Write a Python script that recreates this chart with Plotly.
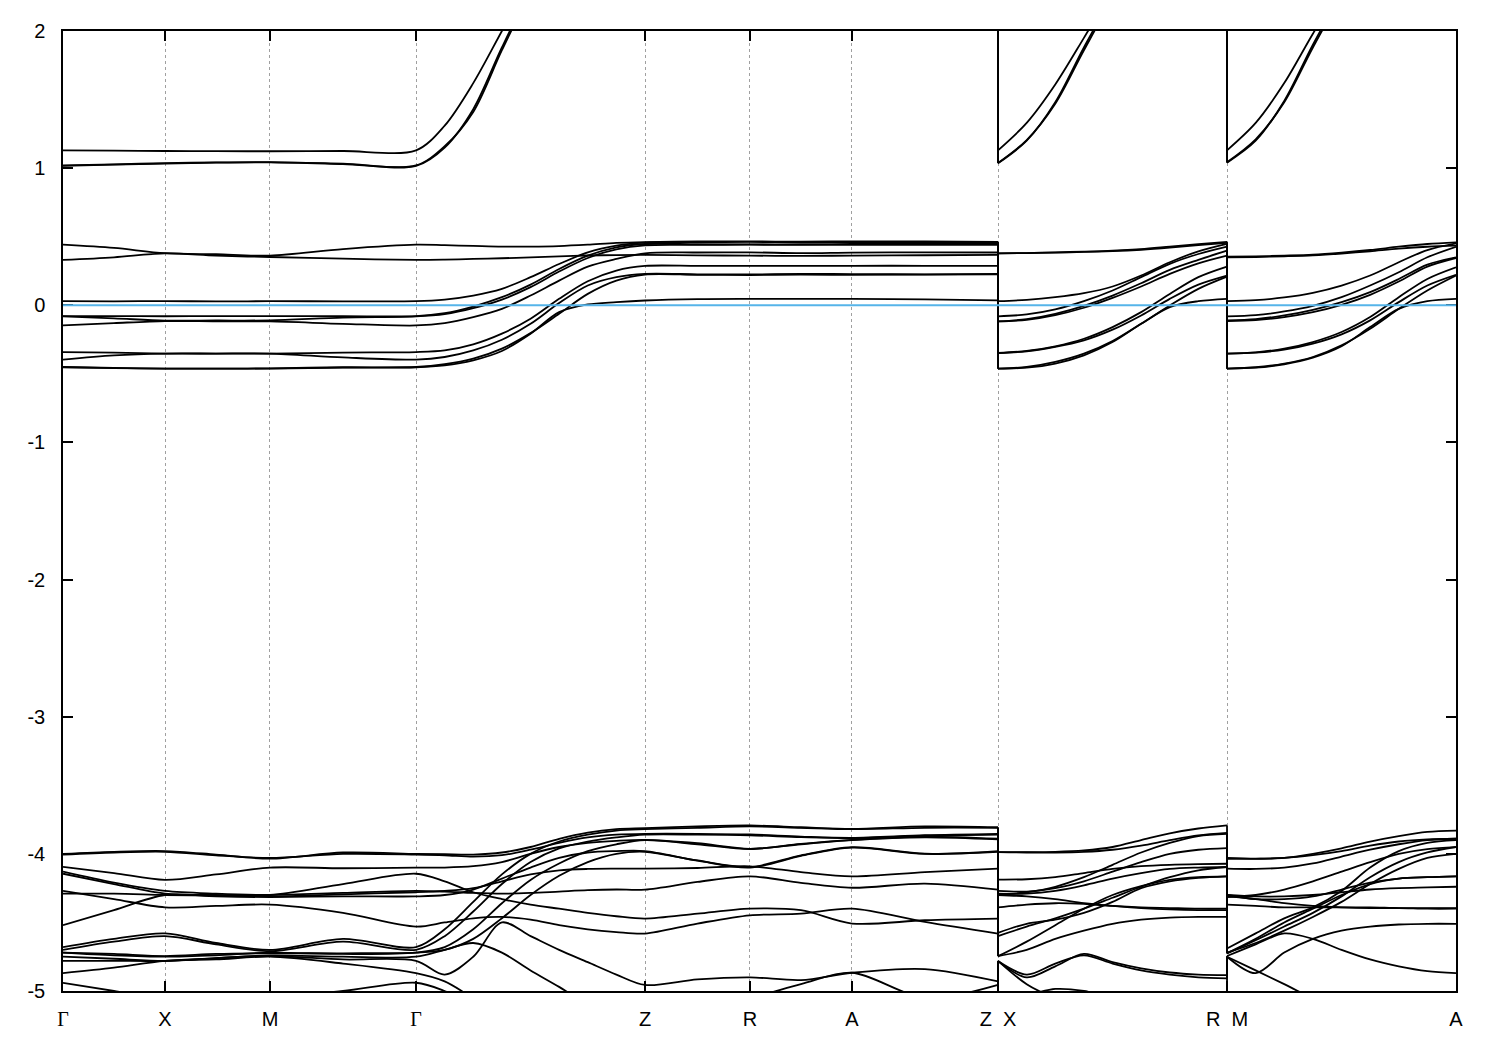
import plotly.graph_objects as go

# ---------------- k-path (Γ-X distance = 1) ----------------
K_NODES = [0.0, 1.0, 2.029, 3.461, 5.706, 6.735, 7.735, 9.167, 11.412, 13.657]
K_LABELS = ['<span style="font-family:Liberation Serif">Γ</span>', "X", "M",
            '<span style="font-family:Liberation Serif">Γ</span>', "Z", "R", "A",
            "Z\u00a0\u00a0X", "R\u00a0\u00a0M", "A"]

# k positions where energies were read
K_MAIN = [0.0, 0.5, 1.0, 1.5, 2.029, 2.745, 3.461,                      # Γ-X-M-Γ
          3.742, 4.022, 4.303, 4.584, 4.864, 5.145, 5.425, 5.706,      # Γ-Z
          6.22, 6.735, 7.235, 7.735, 8.45, 9.167]                      # Z-R-A-Z
K_XR = [9.167, 9.448, 9.728, 10.009, 10.29, 10.57, 10.851, 11.131, 11.412]
K_MA = [11.412, 11.693, 11.973, 12.254, 12.535, 12.815, 13.096, 13.376, 13.657]

E_FERMI = 0.0
Y_TICKS = [2, 1, 0, -1, -2, -3, -4, -5]
Y_TICKTEXT = ["2", "1", "0", "-1", "-2", "-3", "-4", "-5"]

# ---------------- band energies (eV) ----------------
E_MAIN = {
    # upper bands
    "u0": [1.13, 1.128, 1.125, 1.124, 1.123, 1.125, 1.13,
           1.31, 1.62, 2.0, 2.38, 2.75, 3.05, 3.25, 3.3,
           3.3, 3.3, 3.3, 3.3, 3.3, 3.3],
    "u1": [1.016, 1.025, 1.033, 1.04, 1.042, 1.03, 1.016,
           1.15, 1.43, 1.88, 2.3, 2.65, 2.9, 3.05, 3.1,
           3.1, 3.1, 3.1, 3.1, 3.1, 3.1],
    "u2": [1.02, 1.028, 1.036, 1.042, 1.044, 1.033, 1.02,
           1.16, 1.41, 1.86, 2.28, 2.63, 2.88, 3.03, 3.08,
           3.08, 3.08, 3.08, 3.08, 3.08, 3.08],
    # bands around the Fermi level
    "m0": [0.442, 0.418, 0.38, 0.372, 0.362, 0.41, 0.442,
           0.438, 0.433, 0.428, 0.428, 0.432, 0.442, 0.455, 0.461,
           0.466, 0.466, 0.464, 0.466, 0.466, 0.462],
    "m1": [0.331, 0.35, 0.378, 0.362, 0.352, 0.34, 0.331,
           0.333, 0.338, 0.343, 0.35, 0.357, 0.363, 0.366, 0.367,
           0.364, 0.362, 0.36, 0.362, 0.365, 0.367],
    "m2": [0.030, 0.029, 0.031, 0.028, 0.030, 0.029, 0.030,
           0.042, 0.071, 0.120, 0.205, 0.301, 0.386, 0.435, 0.457,
           0.46, 0.462, 0.46, 0.46, 0.46, 0.458],
    "m3": [-0.079, -0.079, -0.08, -0.079, -0.079, -0.079, -0.079,
           -0.057, -0.009, 0.059, 0.151, 0.265, 0.362, 0.423, 0.447,
           0.445, 0.444, 0.445, 0.447, 0.448, 0.45],
    "m4": [-0.081, -0.095, -0.112, -0.111, -0.110, -0.09, -0.081,
           -0.064, -0.021, 0.042, 0.132, 0.246, 0.345, 0.408, 0.437,
           0.44, 0.442, 0.44, 0.44, 0.44, 0.44],
    "m5": [-0.147, -0.13, -0.115, -0.117, -0.118, -0.135, -0.147,
           -0.130, -0.086, -0.026, 0.071, 0.180, 0.282, 0.338, 0.379,
           0.385, 0.386, 0.380, 0.384, 0.386, 0.385],
    "m6": [-0.341, -0.345, -0.352, -0.352, -0.352, -0.345, -0.341,
           -0.329, -0.285, -0.207, -0.098, 0.047, 0.175, 0.253, 0.287,
           0.287, 0.287, 0.287, 0.288, 0.288, 0.287],
    "m7": [-0.396, -0.365, -0.352, -0.352, -0.352, -0.38, -0.396,
           -0.377, -0.329, -0.251, -0.135, 0.016, 0.144, 0.205, 0.229,
           0.226, 0.225, 0.229, 0.227, 0.226, 0.229],
    "m8": [-0.450, -0.456, -0.462, -0.462, -0.460, -0.452, -0.450,
           -0.430, -0.389, -0.316, -0.203, -0.062, 0.083, 0.180, 0.224,
           0.222, 0.221, 0.224, 0.222, 0.224, 0.226],
    "m9": [-0.452, -0.458, -0.462, -0.462, -0.462, -0.455, -0.452,
           -0.438, -0.401, -0.333, -0.207, -0.050, 0.006, 0.023, 0.035,
           0.045, 0.047, 0.047, 0.047, 0.043, 0.036],
    # lower bands
    "b0": [-4.00, -3.985, -3.98, -4.005, -4.035, -3.99, -4.00,
           -4.003, -4.005, -3.99, -3.95, -3.89, -3.845, -3.82, -3.813,
           -3.80, -3.793, -3.806, -3.818, -3.80, -3.806],
    "b1": [-4.005, -3.99, -3.985, -4.01, -4.03, -4.00, -4.005,
           -4.01, -4.02, -4.01, -3.97, -3.92, -3.88, -3.86, -3.854,
           -3.854, -3.859, -3.874, -3.883, -3.864, -3.854],
    "b2": [-4.095, -4.14, -4.19, -4.15, -4.10, -4.105, -4.10,
           -4.10, -4.09, -4.06, -4.0, -3.95, -3.92, -3.905, -3.898,
           -3.922, -3.963, -3.927, -3.898, -3.874, -3.89],
    "b3": [-4.13, -4.21, -4.27, -4.29, -4.30, -4.285, -4.27,
           -4.275, -4.285, -4.29, -4.285, -4.275, -4.265, -4.26, -4.261,
           -4.205, -4.164, -4.212, -4.247, -4.217, -4.261],
    "b4": [-4.145, -4.22, -4.29, -4.30, -4.30, -4.22, -4.145,
           -4.20, -4.28, -4.33, -4.37, -4.40, -4.43, -4.455, -4.472,
           -4.436, -4.399, -4.411, -4.508, -4.484, -4.472],
    "b5": [-4.27, -4.33, -4.39, -4.38, -4.37, -4.43, -4.53,
           -4.50, -4.47, -4.46, -4.48, -4.52, -4.55, -4.57, -4.581,
           -4.508, -4.448, -4.436, -4.399, -4.496, -4.581],
    "b6": [-4.29, -4.29, -4.30, -4.305, -4.31, -4.295, -4.28,
           -4.27, -4.25, -4.20, -4.15, -4.12, -4.11, -4.108, -4.108,
           -4.103, -4.091, -4.133, -4.164, -4.133, -4.108],
    "b7": [-4.52, -4.41, -4.30, -4.31, -4.315, -4.31, -4.31,
           -4.30, -4.26, -4.18, -4.10, -4.03, -3.99, -3.98, -3.98,
           -4.048, -4.096, -4.011, -3.951, -3.999, -3.98],
    "b8": [-4.68, -4.62, -4.58, -4.65, -4.70, -4.62, -4.68,
           -4.55, -4.35, -4.15, -4.0, -3.91, -3.86, -3.83, -3.82,
           -3.81, -3.80, -3.81, -3.82, -3.81, -3.81],
    "b9": [-4.70, -4.64, -4.60, -4.66, -4.71, -4.64, -4.70,
           -4.60, -4.42, -4.22, -4.06, -3.96, -3.91, -3.88, -3.86,
           -3.86, -3.865, -3.878, -3.885, -3.868, -3.86],
    "b10": [-4.72, -4.74, -4.75, -4.74, -4.72, -4.73, -4.72,
            -4.68, -4.55, -4.36, -4.19, -4.07, -3.98, -3.93, -3.90,
            -3.93, -3.965, -3.93, -3.90, -3.88, -3.895],
    "b15": [-4.72, -4.73, -4.745, -4.73, -4.725, -4.725, -4.72,
            -4.70, -4.62, -4.47, -4.30, -4.16, -4.06, -4.0, -3.985,
            -4.05, -4.10, -4.015, -3.955, -4.0, -3.985],
    "b11": [-4.75, -4.765, -4.78, -4.76, -4.74, -4.75, -4.75,
            -4.70, -4.65, -4.72, -4.85, -4.97, -5.1, -5.2, -5.3,
            -5.1, -5.05, -4.95, -4.867, -5.05, -4.956],
    "b12": [-4.78, -4.78, -4.78, -4.76, -4.745, -4.77, -4.78,
            -4.88, -4.75, -4.50, -4.60, -4.70, -4.79, -4.88, -4.956,
            -4.915, -4.90, -4.92, -4.867, -4.84, -4.93],
    "b13": [-4.87, -4.83, -4.78, -4.77, -4.75, -4.80, -4.87,
            -4.93, -5.05, -5.15, -5.2, -5.25, -5.3, -5.3, -5.3,
            -5.3, -5.3, -5.3, -5.3, -5.3, -5.3],
    "b14": [-4.94, -5.0, -5.06, -5.1, -5.05, -5.0, -4.94,
            -5.0, -5.1, -5.2, -5.3, -5.3, -5.3, -5.3, -5.3,
            -5.3, -5.3, -5.3, -5.3, -5.3, -5.3],
}

E_XR = {
    "u0": [1.13, 1.33, 1.61, 1.95, 2.3, 2.6, 2.85, 3.0, 3.05],
    "u1": [1.035, 1.2, 1.48, 1.88, 2.25, 2.55, 2.8, 2.95, 3.0],
    "u2": [1.038, 1.205, 1.47, 1.86, 2.23, 2.53, 2.78, 2.93, 2.98],
    "m0": [0.379, 0.381, 0.386, 0.391, 0.398, 0.41, 0.428, 0.446, 0.462],
    "m1": [0.379, 0.38, 0.384, 0.389, 0.395, 0.405, 0.42, 0.438, 0.455],
    "m2": [0.030, 0.040, 0.059, 0.088, 0.137, 0.217, 0.314, 0.393, 0.447],
    "m3": [-0.081, -0.067, -0.030, 0.030, 0.108, 0.205, 0.302, 0.374, 0.428],
    "m4": [-0.118, -0.101, -0.062, -0.004, 0.071, 0.161, 0.258, 0.331, 0.398],
    "m5": [-0.118, -0.106, -0.072, -0.018, 0.054, 0.137, 0.229, 0.306, 0.362],
    "m6": [-0.348, -0.333, -0.299, -0.244, -0.159, -0.050, 0.083, 0.205, 0.282],
    "m7": [-0.348, -0.336, -0.304, -0.256, -0.178, -0.074, 0.047, 0.151, 0.217],
    "m8": [-0.462, -0.450, -0.413, -0.353, -0.261, -0.135, -0.001, 0.120, 0.209],
    "m9": [-0.462, -0.455, -0.425, -0.365, -0.268, -0.135, -0.013, 0.030, 0.047],
    "b0": [-3.987, -3.987, -3.985, -3.975, -3.95, -3.90, -3.85, -3.815, -3.793],
    "b1": [-3.987, -3.99, -3.99, -3.985, -3.97, -3.94, -3.90, -3.865, -3.847],
    "b2": [-4.188, -4.185, -4.17, -4.14, -4.11, -4.09, -4.08, -4.075, -4.072],
    "b3": [-4.27, -4.275, -4.25, -4.20, -4.13, -4.06, -4.0, -3.97, -3.958],
    "b4": [-4.29, -4.29, -4.27, -4.23, -4.18, -4.14, -4.11, -4.10, -4.096],
    "b5": [-4.39, -4.37, -4.36, -4.365, -4.38, -4.39, -4.395, -4.40, -4.40],
    "b6": [-4.30, -4.31, -4.33, -4.36, -4.38, -4.395, -4.405, -4.41, -4.41],
    "b7": [-4.30, -4.28, -4.24, -4.17, -4.08, -3.99, -3.92, -3.87, -3.855],
    "b8": [-4.576, -4.51, -4.48, -4.43, -4.35, -4.25, -4.20, -4.175, -4.164],
    "b9": [-4.60, -4.53, -4.47, -4.40, -4.32, -4.24, -4.17, -4.12, -4.096],
    "b10": [-4.746, -4.64, -4.52, -4.40, -4.30, -4.235, -4.19, -4.17, -4.164],
    "b15": [-4.745, -4.70, -4.62, -4.56, -4.51, -4.48, -4.465, -4.46, -4.46],
    "b11": [-4.782, -4.90, -4.82, -4.73, -4.79, -4.835, -4.865, -4.88, -4.884],
    "b12": [-4.782, -4.88, -4.80, -4.74, -4.80, -4.85, -4.88, -4.90, -4.908],
    "b13": [-4.78, -4.95, -5.05, -5.1, -5.15, -5.2, -5.2, -5.2, -5.2],
    "b14": [-5.06, -5.03, -4.985, -5.0, -5.05, -5.1, -5.15, -5.2, -5.2],
}

E_MA = {
    "u0": [1.13, 1.33, 1.62, 1.98, 2.32, 2.62, 2.86, 3.0, 3.05],
    "u1": [1.04, 1.2, 1.49, 1.9, 2.27, 2.57, 2.8, 2.95, 3.0],
    "u2": [1.043, 1.21, 1.48, 1.88, 2.25, 2.55, 2.78, 2.93, 2.98],
    "m0": [0.355, 0.357, 0.362, 0.369, 0.384, 0.403, 0.427, 0.447, 0.459],
    "m1": [0.350, 0.352, 0.357, 0.364, 0.377, 0.394, 0.413, 0.427, 0.435],
    "m2": [0.030, 0.037, 0.057, 0.091, 0.144, 0.217, 0.314, 0.403, 0.452],
    "m3": [-0.081, -0.072, -0.045, -0.004, 0.059, 0.144, 0.241, 0.350, 0.427],
    "m4": [-0.110, -0.101, -0.074, -0.033, 0.023, 0.096, 0.192, 0.297, 0.350],
    "m5": [-0.115, -0.108, -0.086, -0.050, 0.003, 0.076, 0.173, 0.282, 0.345],
    "m6": [-0.353, -0.343, -0.316, -0.268, -0.195, -0.086, 0.059, 0.192, 0.277],
    "m7": [-0.353, -0.345, -0.324, -0.280, -0.212, -0.110, 0.023, 0.144, 0.222],
    "m8": [-0.462, -0.452, -0.425, -0.377, -0.292, -0.171, -0.026, 0.108, 0.217],
    "m9": [-0.462, -0.455, -0.430, -0.382, -0.299, -0.159, -0.026, 0.030, 0.047],
    "b0": [-4.036, -4.036, -4.03, -4.0, -3.96, -3.91, -3.87, -3.84, -3.83],
    "b1": [-4.03, -4.035, -4.03, -4.01, -3.98, -3.94, -3.91, -3.895, -3.89],
    "b2": [-4.108, -4.11, -4.10, -4.07, -4.02, -3.97, -3.93, -3.90, -3.89],
    "b3": [-4.30, -4.33, -4.33, -4.31, -4.26, -4.21, -4.18, -4.17, -4.164],
    "b4": [-4.30, -4.31, -4.31, -4.30, -4.28, -4.26, -4.25, -4.245, -4.24],
    "b5": [-4.37, -4.38, -4.39, -4.39, -4.39, -4.39, -4.395, -4.395, -4.395],
    "b6": [-4.31, -4.33, -4.36, -4.38, -4.39, -4.395, -4.395, -4.40, -4.40],
    "b7": [-4.315, -4.30, -4.26, -4.20, -4.13, -4.06, -4.0, -3.965, -3.951],
    "b8": [-4.69, -4.58, -4.47, -4.39, -4.27, -4.10, -3.98, -3.92, -3.90],
    "b9": [-4.726, -4.63, -4.53, -4.43, -4.31, -4.17, -4.06, -3.99, -3.95],
    "b10": [-4.72, -4.65, -4.56, -4.46, -4.35, -4.22, -4.11, -4.03, -4.0],
    "b15": [-4.725, -4.62, -4.50, -4.40, -4.30, -4.22, -4.18, -4.17, -4.164],
    "b11": [-4.75, -4.87, -4.72, -4.62, -4.56, -4.53, -4.515, -4.51, -4.51],
    "b12": [-4.745, -4.66, -4.58, -4.62, -4.70, -4.77, -4.82, -4.855, -4.87],
    "b13": [-4.75, -4.85, -4.95, -5.05, -5.1, -5.15, -5.2, -5.2, -5.2],
    "b14": [-5.05, -5.1, -5.15, -5.2, -5.2, -5.2, -5.2, -5.2, -5.2],
}

# ---------------- figure ----------------
LINE = dict(color="black", width=1.8, shape="spline", smoothing=0.9)
fig = go.Figure()

for name in E_MAIN:
    for ks, es in ((K_MAIN, E_MAIN[name]), (K_XR, E_XR[name]), (K_MA, E_MA[name])):
        fig.add_trace(go.Scatter(x=ks, y=es, mode="lines", line=LINE,
                                 hoverinfo="skip", showlegend=False))

# vertical jumps at the path discontinuities (Z|X and R|M)
cx, cy = [], []
for name in E_MAIN:
    cx += [K_NODES[7], K_NODES[7], None, K_NODES[8], K_NODES[8], None]
    cy += [E_MAIN[name][-1], E_XR[name][0], None, E_XR[name][-1], E_MA[name][0], None]
fig.add_trace(go.Scatter(x=cx, y=cy, mode="lines",
                         line=dict(color="black", width=1.8),
                         hoverinfo="skip", showlegend=False))

fig.add_hline(y=E_FERMI, line=dict(color="#56B4E9", width=2))

FONT = dict(family="Liberation Sans, Arial, sans-serif", size=20, color="black")
fig.update_layout(
    width=1484, height=1034,
    margin=dict(l=55, r=36, t=20, b=51),
    paper_bgcolor="white", plot_bgcolor="white",
    showlegend=False, hovermode=False,
    font=FONT,
)
fig.update_xaxes(
    range=[K_NODES[0], K_NODES[-1]],
    tickmode="array", tickvals=K_NODES, ticktext=K_LABELS,
    ticks="inside", ticklen=10, tickwidth=1.5, tickcolor="black",
    showline=True, linecolor="black", linewidth=1.5, mirror="ticks",
    showgrid=True, gridcolor="#a0a0a0", gridwidth=1, griddash="3px,3px",
    zeroline=False, tickfont=FONT, ticklabelstandoff=9,
)
fig.update_yaxes(
    range=[-5, 2],
    tickmode="array", tickvals=Y_TICKS, ticktext=Y_TICKTEXT,
    ticks="inside", ticklen=10, tickwidth=1.5, tickcolor="black",
    showline=True, linecolor="black", linewidth=1.5, mirror="ticks",
    showgrid=False, zeroline=False, tickfont=FONT, ticklabelstandoff=12,
)

fig.write_html("out.html")
